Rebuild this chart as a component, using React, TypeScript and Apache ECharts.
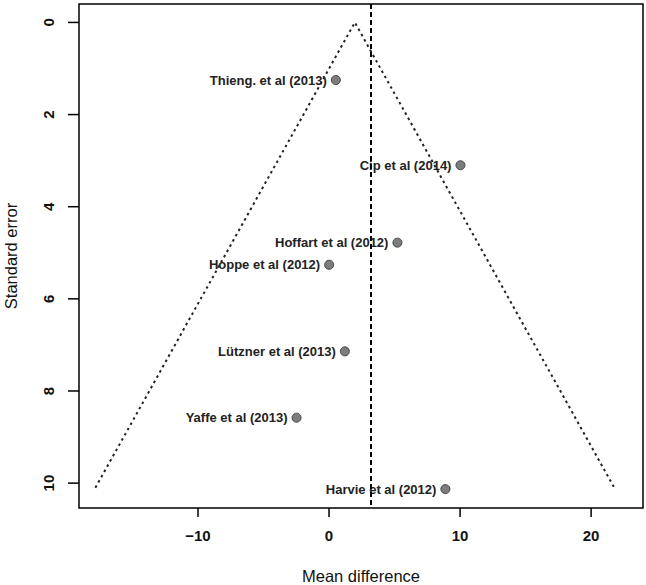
import React, { useEffect, useRef } from "react";
import * as echarts from "echarts";

const studies = [
  "Thieng. et al (2013)",
  "Cip et al (2014)",
  "Hoffart et al (2012)",
  "Hoppe et al (2012)",
  "Lützner et al (2013)",
  "Yaffe et al (2013)",
  "Harvie et al (2012)",
];
const meanDiff = [0.52, 10.03, 5.22, 0.01, 1.21, -2.48, 8.88];
const stdErr = [1.25, 3.1, 4.78, 5.26, 7.14, 8.58, 10.13];

const funnelX = [-17.83, 1.97, 21.77];
const funnelY = [10.1, 0, 10.1];
const pooledEstimate = 3.17;

const xTicks = [-10, 0, 10, 20];
const yTicks = [0, 2, 4, 6, 8, 10];

const xRange = [-19.08, 23.96];
const yRange = [-0.4, 10.54];

const FONT = "'Liberation Sans', Arial, Helvetica, sans-serif";

export default function App() {
  const ref = useRef<HTMLDivElement>(null);
  useEffect(() => {
    if (!ref.current) return;
    const chart = echarts.init(ref.current, undefined, { renderer: "svg" });
    chart.setOption({
      animation: false,
      backgroundColor: "#fff",
      textStyle: { fontFamily: FONT },
      grid: {
        left: 79,
        right: 3,
        top: 4,
        bottom: 77,
        containLabel: false,
        outerBoundsMode: "none",
        show: true,
        borderColor: "#000",
        borderWidth: 1.5,
        backgroundColor: "transparent",
      },
      xAxis: {
        type: "value",
        min: xRange[0],
        max: xRange[1],
        position: "bottom",
        axisLine: { show: false, onZero: false },
        splitLine: { show: false },
        axisTick: { show: false },
        axisLabel: {
          customValues: xTicks,
          formatter: (v: number) => String(v).replace("-", "\u2212"),
          margin: 20,
          fontSize: 15,
          fontWeight: "bold",
          color: "#111",
          fontFamily: FONT,
        },
        name: "Mean difference",
        nameLocation: "middle",
        nameGap: 59,
        nameTextStyle: { fontSize: 16.5, color: "#111", fontFamily: FONT },
      },
      yAxis: {
        type: "value",
        inverse: true,
        min: yRange[0],
        max: yRange[1],
        position: "left",
        axisLine: { show: false, onZero: false },
        splitLine: { show: false },
        axisTick: { show: false },
        axisLabel: {
          customValues: yTicks,
          rotate: 90,
          margin: 23,
          fontSize: 15,
          fontWeight: "bold",
          color: "#111",
          fontFamily: FONT,
        },
        name: "Standard error",
        nameLocation: "middle",
        nameGap: 60,
        nameTextStyle: { fontSize: 16.5, color: "#111", fontFamily: FONT },
      },
      series: [
        {
          type: "line",
          data: funnelX.map((x, i) => [x, funnelY[i]]),
          symbol: "none",
          silent: true,
          lineStyle: { color: "#222", width: 2, type: [2.5, 3.5] },
          z: 2,
        },
        {
          type: "scatter",
          data: meanDiff.map((x, i) => [x, stdErr[i]]),
          symbolSize: 9,
          itemStyle: { color: "#7d7d7d", borderColor: "#444", borderWidth: 1, opacity: 1 },
          label: {
            show: true,
            position: "left",
            distance: 4,
            formatter: (p: any) => studies[p.dataIndex],
            fontSize: 13,
            fontWeight: "bold",
            color: "#222",
            fontFamily: FONT,
          },
          markLine: {
            silent: true,
            symbol: "none",
            label: { show: false },
            lineStyle: { color: "#000", width: 2, type: [5, 3] },
            data: [{ xAxis: pooledEstimate }],
          },
          z: 3,
        },
      ],
    });

    // outward tick marks, placed through the chart's own axis scales
    const tickStyle = { stroke: "#000", lineWidth: 1.5 };
    const tickGraphics: any[] = [];
    xTicks.forEach((v) => {
      const pt = chart.convertToPixel({ gridIndex: 0 }, [v, yRange[1]]) as number[];
      if (pt) {
        tickGraphics.push({
          type: "line",
          silent: true,
          z: 100,
          shape: { x1: pt[0], y1: pt[1], x2: pt[0], y2: pt[1] + 9 },
          style: tickStyle,
        });
      }
    });
    yTicks.forEach((v) => {
      const pt = chart.convertToPixel({ gridIndex: 0 }, [xRange[0], v]) as number[];
      if (pt) {
        tickGraphics.push({
          type: "line",
          silent: true,
          z: 100,
          shape: { x1: pt[0], y1: pt[1], x2: pt[0] - 11, y2: pt[1] },
          style: tickStyle,
        });
      }
    });
    chart.setOption({ graphic: tickGraphics });

    return () => chart.dispose();
  }, []);
  return (
    <div
      ref={ref}
      style={{ position: "absolute", left: 0, top: 0, width: 646, height: 585, background: "#fff" }}
    />
  );
}
